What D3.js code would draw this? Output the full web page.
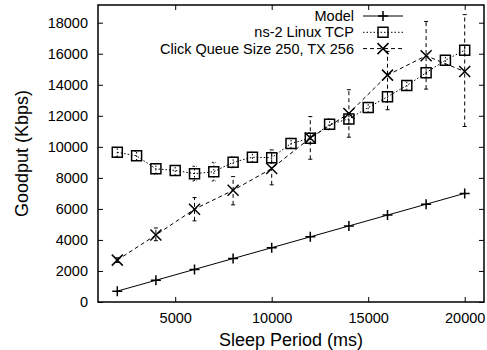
<!DOCTYPE html>
<html>
<head>
<meta charset="utf-8">
<script src="https://cdn.jsdelivr.net/npm/d3@7.9.0/dist/d3.min.js"></script>
<style>
  body { margin: 0; background: #fff; }
  svg { display: block; font-family: "Liberation Sans", Arial, sans-serif; }
  .axis path, .axis line { stroke: #000; }
  .axis text { font-size: 14.5px; fill: #000; font-family: "Liberation Sans", Arial, sans-serif; }
</style>
</head>
<body>
<div id="chart"></div>
<script>
// Model
const xModel = [2000, 4000, 6000, 8000, 10000, 12000, 14000, 16000, 18000, 20000];
const model = [700, 1400, 2100, 2800, 3500, 4200, 4900, 5600, 6300, 7000];

// ns-2 Linux TCP
const xNs2 = [2000, 3000, 4000, 5000, 6000, 7000, 8000, 9000, 10000, 11000,
  12000, 13000, 14000, 15000, 16000, 17000, 18000, 19000, 20000];
const ns2 = [9650, 9420, 8580, 8480, 8270, 8400, 9000, 9330, 9300, 10220,
  10550, 11450, 11800, 12530, 13230, 13950, 14770, 15580, 16230];
const ns2Lo = [9350, 9120, 8250, 8150, 7800, 7800, 8650, 9000, 8950, 9900,
  10200, 11100, 11450, 12200, 12900, 13650, 14450, 15250, 15900];
const ns2Hi = [9950, 9720, 8900, 8800, 8750, 9000, 9350, 9650, 9650, 10550,
  10900, 11800, 12150, 12850, 13550, 14250, 15100, 15900, 16550];

// Click Queue Size 250, TX 256
const xClick = [2000, 4000, 6000, 8000, 10000, 12000, 14000, 16000, 18000, 20000];
const click = [2700, 4320, 5980, 7200, 8600, 10570, 12150, 14620, 15870, 14850];
const clickLo = [2550, 3950, 5230, 6260, 7550, 9200, 10620, 12390, 13720, 11310];
const clickHi = [2850, 4770, 6730, 8080, 9800, 11950, 13680, 16150, 18080, 18520];

const xTicks = [5000, 10000, 15000, 20000];
const yTicks = [0, 2000, 4000, 6000, 8000, 10000, 12000, 14000, 16000, 18000];

const width = 487, height = 350;
const margin = { top: 5, right: 3, bottom: 48, left: 98 };

const svg = d3.select('#chart').append('svg')
  .attr('width', width).attr('height', height);

const x = d3.scaleLinear().domain([1000, 21000]).range([margin.left, width - margin.right]);
const y = d3.scaleLinear().domain([0, 19140]).range([height - margin.bottom, margin.top]);
const fmt = d3.format('d');

// axes, ticks pointing inward, mirrored on top and right
svg.append('g').attr('class', 'axis')
  .attr('transform', `translate(0,${y(0)})`)
  .call(d3.axisBottom(x).tickValues(xTicks).tickFormat(fmt).tickSize(-5).tickPadding(11))
  .call(g => g.select('.domain').remove());
svg.append('g').attr('class', 'axis')
  .attr('transform', `translate(0,${margin.top})`)
  .call(d3.axisTop(x).tickValues(xTicks).tickSize(-5).tickFormat(''))
  .call(g => g.select('.domain').remove());
svg.append('g').attr('class', 'axis')
  .attr('transform', `translate(${margin.left},0)`)
  .call(d3.axisLeft(y).tickValues(yTicks).tickFormat(fmt).tickSize(-5).tickPadding(10))
  .call(g => g.select('.domain').remove());
svg.append('g').attr('class', 'axis')
  .attr('transform', `translate(${width - margin.right},0)`)
  .call(d3.axisRight(y).tickValues(yTicks).tickSize(-5).tickFormat(''))
  .call(g => g.select('.domain').remove());

svg.append('rect')
  .attr('x', margin.left).attr('y', margin.top)
  .attr('width', width - margin.right - margin.left)
  .attr('height', height - margin.bottom - margin.top)
  .attr('fill', 'none').attr('stroke', '#000').attr('stroke-width', 1.5);

svg.append('text')
  .attr('x', (margin.left + width - margin.right) / 2).attr('y', 346)
  .attr('text-anchor', 'middle').attr('font-size', 18).text('Sleep Period (ms)');
svg.append('text')
  .attr('transform', `translate(28,${(margin.top + height - margin.bottom) / 2}) rotate(-90)`)
  .attr('text-anchor', 'middle').attr('font-size', 18).text('Goodput (Kbps)');

// marker shapes
const plus = (cx, cy, s = 5) => `M${cx - s},${cy}H${cx + s}M${cx},${cy - s}V${cy + s}`;
const cross = (cx, cy, s = 5.5) => `M${cx - s},${cy - s}L${cx + s},${cy + s}M${cx - s},${cy + s}L${cx + s},${cy - s}`;
const square = (cx, cy, s = 5) => `M${cx - s},${cy - s}h${2 * s}v${2 * s}h${-2 * s}Z`;

const series = [
  { name: 'Model', xs: xModel, ys: model, dash: null, marker: plus },
  { name: 'ns-2 Linux TCP', xs: xNs2, ys: ns2, lo: ns2Lo, hi: ns2Hi, dash: '1.5,2', marker: square },
  { name: 'Click Queue Size 250, TX 256', xs: xClick, ys: click, lo: clickLo, hi: clickHi, dash: '4,3', marker: cross },
];

const line = d3.line().x(d => x(d[0])).y(d => y(d[1]));

series.forEach(s => {
  const pts = s.xs.map((v, i) => [v, s.ys[i]]);
  const g = svg.append('g');
  g.append('path').datum(pts)
    .attr('d', line).attr('fill', 'none').attr('stroke', '#000')
    .attr('stroke-width', 1).attr('stroke-dasharray', s.dash);
  if (s.lo) {
    const bars = s.xs.map((v, i) => [v, s.lo[i], s.hi[i]]);
    g.selectAll('.err').data(bars).join('path')
      .attr('d', d => `M${x(d[0])},${y(d[1])}V${y(d[2])}M${x(d[0]) - 2},${y(d[1])}h4M${x(d[0]) - 2},${y(d[2])}h4`)
      .attr('fill', 'none').attr('stroke', '#000').attr('stroke-width', 1)
      .attr('stroke-dasharray', s.dash);
  }
  g.selectAll('.pt').data(pts).join('path')
    .attr('d', d => s.marker(x(d[0]), y(d[1])))
    .attr('fill', 'none').attr('stroke', '#000').attr('stroke-width', 1.5);
});

// legend
const legend = svg.append('g');
series.forEach((s, i) => {
  const ly = 16 + i * 16.3;
  legend.append('text').attr('x', 354).attr('y', ly).attr('dy', '0.35em')
    .attr('text-anchor', 'end').attr('font-size', 14.5).text(s.name);
  legend.append('path').attr('d', `M363,${ly}H403`)
    .attr('stroke', '#000').attr('stroke-width', 1).attr('stroke-dasharray', s.dash);
  legend.append('path').attr('d', s.marker(383, ly))
    .attr('fill', 'none').attr('stroke', '#000').attr('stroke-width', 1.5);
});
</script>
</body>
</html>
